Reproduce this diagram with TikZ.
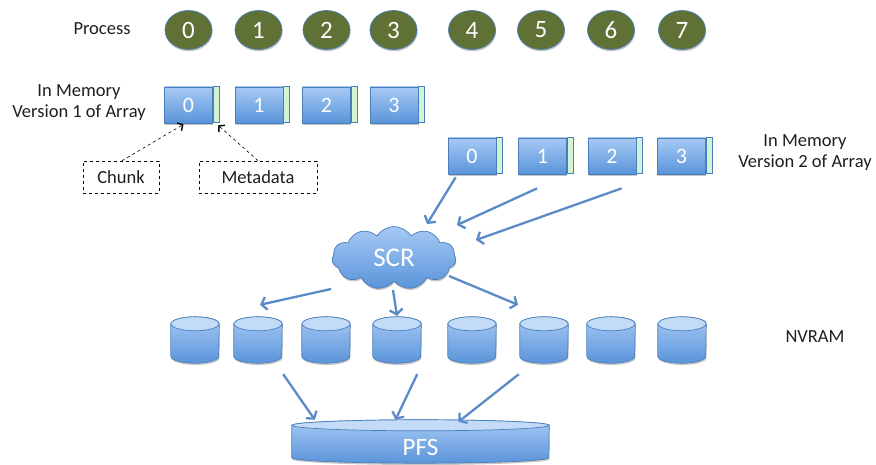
\documentclass[tikz,border=0pt]{standalone}
\usepackage{fontspec}
\setmainfont{Carlito}
\usetikzlibrary{shapes.symbols,shapes.geometric,arrows.meta,shadows}

\definecolor{procfill}{HTML}{5F7134}
\definecolor{edgeblue}{HTML}{4A7EBB}
\definecolor{boxtop}{HTML}{A6C9F4}
\definecolor{boxbot}{HTML}{5A94DA}
\definecolor{drumface}{HTML}{C4DBF7}
\definecolor{metagreen}{HTML}{D2F4D4}
\definecolor{flowblue}{HTML}{5B8BC7}
\definecolor{labelgray}{HTML}{1E1E1E}

% cylinder: #1 name, #2 x, #3 y, #4 width, #5 height, #6 end radius, #7 text
\newcommand\drum[7]{%
  \node[inner sep=0pt, minimum width=#4pt, minimum height=#5pt] (#1) at (#2,#3) {};
  \shade[drumbody] ([yshift=-#6pt]#1.north west) -- ([yshift=#6pt]#1.south west)
     arc[start angle=180, end angle=360, x radius=#4pt/2, y radius=#6pt]
     -- ([yshift=-#6pt]#1.north east)
     arc[start angle=0, end angle=180, x radius=#4pt/2, y radius=#6pt] -- cycle;
  \filldraw[drumtop] ([yshift=-#6pt]#1.north) ellipse[x radius=#4pt/2, y radius=#6pt];
  \node[text=white, font=\fontsize{25}{25}\selectfont] (#1-t) at ([yshift=-#6pt]#1.center) {#7};
}

\begin{document}
\begin{tikzpicture}[x=1pt, y=-1pt,
  softshadow/.style={drop shadow={shadow xshift=0.6pt, shadow yshift=-1.8pt, opacity=0.22, fill=black}},
  proc/.style={ellipse, inner sep=0pt, minimum width=47pt, minimum height=39pt,
    fill=procfill, draw=edgeblue, line width=0.7pt, text=white,
    font=\fontsize{25}{25}\selectfont, softshadow},
  chunk/.style={rectangle, inner sep=0pt, minimum width=48pt, minimum height=36pt,
    top color=boxtop, bottom color=boxbot, draw=edgeblue, line width=0.7pt,
    text=white, font=\fontsize{22}{22}\selectfont, softshadow},
  meta/.style={rectangle, inner sep=0pt, minimum width=6pt, minimum height=36pt,
    fill=metagreen, draw=edgeblue, line width=0.7pt, anchor=west},
  note/.style={rectangle, draw=black, dashed, line width=0.6pt, inner sep=0pt,
    minimum height=32pt, text=labelgray, font=\fontsize{18.5}{18.5}\selectfont},
  lbl/.style={text=labelgray, font=\fontsize{18.5}{21}\selectfont, align=center},
  drumbody/.style={top color=boxtop, bottom color=boxbot, draw=edgeblue, line width=0.7pt, softshadow},
  drumtop/.style={fill=drumface, draw=edgeblue, line width=0.7pt},
  flow/.style={draw=flowblue, line width=2.3pt,
    -{Straight Barb[length=5pt, width=13pt, line width=2.3pt]}},
  pointer/.style={draw=black, dashed, line width=0.6pt,
    -{Straight Barb[length=4pt, width=9pt, line width=1.4pt]}}
]
\useasboundingbox (0,0) rectangle (876,465);

% processes
\node[lbl] (proclbl) at (102,29) {Process};
\foreach \i/\x in {0/188.5, 1/258.5, 2/326.5, 3/393.5, 4/472, 5/541, 6/611, 7/682}
  \node[proc] (p\i) at (\x,30) {\i};

% array, version 1
\node[lbl] (v1lbl) at (79,103) {In Memory\\Version 1 of Array};
\foreach \i/\x in {0/188.5, 1/259, 2/326.5, 3/394}{
  \node[chunk] (a\i) at (\x,105) {\i};
  \node[meta] (m\i) at ([yshift=1pt]a\i.east) {};
}

% legend boxes
\node[note, minimum width=76pt] (chunknote) at (121,177) {Chunk};
\node[note, minimum width=118pt] (metanote) at (258,177) {Metadata};
\draw[pointer] ([xshift=1pt]chunknote.north) -- ([xshift=-5pt,yshift=-1pt]a0.south);
\draw[pointer] (metanote.north) -- ([xshift=2pt,yshift=-3pt]m0.south);

% array, version 2
\node[lbl] (v2lbl) at (805,153) {In Memory\\Version 2 of Array};
\foreach \i/\x in {0/472, 1/542.5, 2/612, 3/681.5}{
  \node[chunk] (b\i) at (\x,156) {\i};
  \node[meta] (n\i) at ([yshift=1pt]b\i.east) {};
}

% SCR
\node[cloud, cloud puffs=11, cloud puff arc=115, aspect=2, inner sep=0pt,
  minimum width=124pt, minimum height=63pt,
  top color=boxtop, bottom color=boxbot, draw=edgeblue, line width=0.7pt,
  text=white, font=\fontsize{27}{27}\selectfont, softshadow] (scr) at (394,258) {SCR};

\coordinate (in1) at (427,224);
\coordinate (in2) at (457,225);
\coordinate (in3) at (476,240);
\draw[flow] ([xshift=8pt,yshift=-3pt]b0.south west) -- (in1);
\draw[flow] ([xshift=19pt,yshift=-14pt]b1.south west) -- (in2);
\draw[flow] ([xshift=34pt,yshift=-14pt]b2.south west) -- (in3);

% NVRAM
\node[lbl] (nvlbl) at (815,337) {NVRAM};
\foreach \i/\x in {1/195, 2/258, 3/326, 4/397, 5/472, 6/544, 7/611, 8/682}
  \drum{d\i}{\x}{340}{48}{46}{7}{};

\draw[flow] ([xshift=-63pt,yshift=-31pt]scr.center) -- ([xshift=2pt,yshift=12pt]d2.north);
\draw[flow] ([xshift=-1pt,yshift=-32pt]scr.center) -- ([yshift=1pt]d4.north);
\draw[flow] ([xshift=55pt,yshift=-18pt]scr.center) -- ([xshift=-26pt,yshift=12pt]d6.north);

% PFS
\drum{pfs}{420.5}{441.5}{257}{43}{5.5}{PFS};

\draw[flow] ([xshift=1pt,yshift=-11pt]d2.south east) -- ([xshift=23pt]pfs.north west);
\draw[flow] ([xshift=-4pt,yshift=-11pt]d4.south east) -- ([xshift=-25pt]pfs.north);
\draw[flow] ([xshift=-1pt,yshift=-11pt]d6.south west) -- ([xshift=38pt,yshift=-2pt]pfs.north);
\end{tikzpicture}
\end{document}
